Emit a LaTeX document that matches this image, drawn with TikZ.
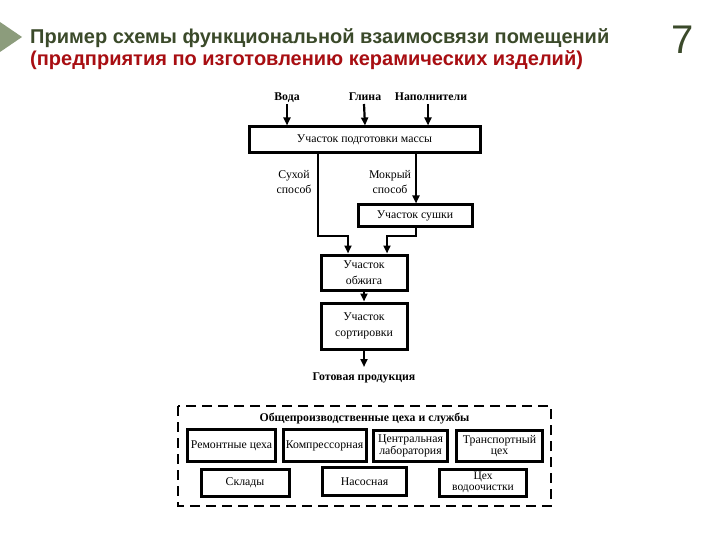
\documentclass[tikz,border=0pt]{standalone}
\usepackage{fontspec}
\setmainfont{Liberation Serif}
\newfontfamily\titlefont{Liberation Sans}
\usetikzlibrary{arrows.meta}
\definecolor{tri}{HTML}{8C9C7C}
\definecolor{olive}{HTML}{3B4A2A}
\definecolor{tred}{HTML}{A80E12}
\begin{document}
\begin{tikzpicture}[x=1pt,y=-1pt,
  box/.style={draw,line width=3pt,inner sep=0pt,align=center,font=\fontsize{11.8}{16}\selectfont},
  sbox/.style={box,font=\fontsize{11.8}{11.5}\selectfont},
  lbl/.style={inner sep=0pt,align=center,font=\fontsize{11.8}{15}\selectfont},
  blbl/.style={inner sep=0pt,align=center,font=\bfseries\fontsize{11.8}{14}\selectfont},
  conn/.style={line width=2.2pt,-{Triangle[length=8pt,width=7pt]}}]
\useasboundingbox (0,0) rectangle (720,540);
\fill[white] (0,0) rectangle (720,540);
% header
\fill[tri] (0,22) -- (22,37) -- (0,52) -- cycle;
\node[anchor=base west,inner sep=0pt,text=olive,font=\titlefont\bfseries\fontsize{20}{22}\selectfont] (t1) at (30,44) {Пример схемы функциональной взаимосвязи помещений};
\node[anchor=base west,inner sep=0pt,text=tred,font=\titlefont\bfseries\fontsize{20}{22}\selectfont] (t2) at (30,66) {(предприятия по изготовлению керамических изделий)};
\node[anchor=base,inner sep=0pt,text=olive,font=\titlefont\fontsize{40}{40}\selectfont] (num) at (683,54) {7};
% inputs
\node[blbl,anchor=base] (voda) at (287,101) {Вода};
\node[blbl,anchor=base] (glina) at (365,101) {Глина};
\node[blbl,anchor=base] (napol) at (431,101) {Наполнители};
% boxes
\node[box,minimum width=231pt,minimum height=26pt] (prep) at (364.5,140) {Участок подготовки массы};
\node[box,minimum width=114pt,minimum height=22pt] (dry) at (415,216) {Участок сушки};
\node[box,minimum width=86pt,minimum height=35pt] (fire) at (364,272.5) {Участок\\обжига};
\node[box,minimum width=86pt,minimum height=46pt] (sort) at (364,326) {Участок\\сортировки};
\node[blbl,anchor=base] (gotov) at (364,380) {Готовая продукция};
\node[lbl] (suh) at (294,182) {Сухой\\способ};
\node[lbl] (mok) at (390,182) {Мокрый\\способ};
% arrows
\draw[conn] (287,104) -- (prep.north -| voda);
\draw[conn] (364,104) -- (prep.north -| glina);
\draw[conn] (428,104) -- (prep.north -| 428,0);
\coordinate (a1) at (318,236);
\coordinate (a2) at (348,236);
\draw[conn] (prep.south -| a1) -- (a1) -- (a2) -- (fire.north -| a2);
\draw[conn] (prep.south -| 416,0) -- (dry.north -| 416,0);
\coordinate (b1) at (416,236);
\coordinate (b2) at (387,236);
\draw[conn] (dry.south -| b1) -- (b1) -- (b2) -- (fire.north -| b2);
\draw[conn] (fire.south) -- (sort.north);
\coordinate (gend) at (364,367);
\draw[conn] (sort.south) -- (gend);
% services
\draw[line width=2pt,dash pattern=on 10pt off 6pt] (178,406) rectangle (551,506);
\node[blbl,anchor=base] (svc) at (364.5,421) {Общепроизводственные цеха и службы};
\node[sbox,minimum width=88pt,minimum height=32pt] (rem) at (231.5,445.5) {Ремонтные цеха};
\node[sbox,minimum width=83pt,minimum height=32pt] (komp) at (324.5,445.5) {Компрессорная};
\node[sbox,minimum width=74pt,minimum height=31pt] (lab) at (410.5,446) {Центральная\\лаборатория};
\node[sbox,minimum width=86pt,minimum height=31pt] (trans) at (499.5,446) {Транспортный\\цех};
\node[sbox,minimum width=88pt,minimum height=27pt] (skl) at (245,482.5) {Склады};
\node[sbox,minimum width=84pt,minimum height=28pt] (nas) at (364.5,481.5) {Насосная};
\node[sbox,minimum width=87pt,minimum height=27pt,font=\fontsize{11.5}{10.5}\selectfont] (voch) at (483,482.5) {Цех\\водоочистки};
\end{tikzpicture}
\end{document}
